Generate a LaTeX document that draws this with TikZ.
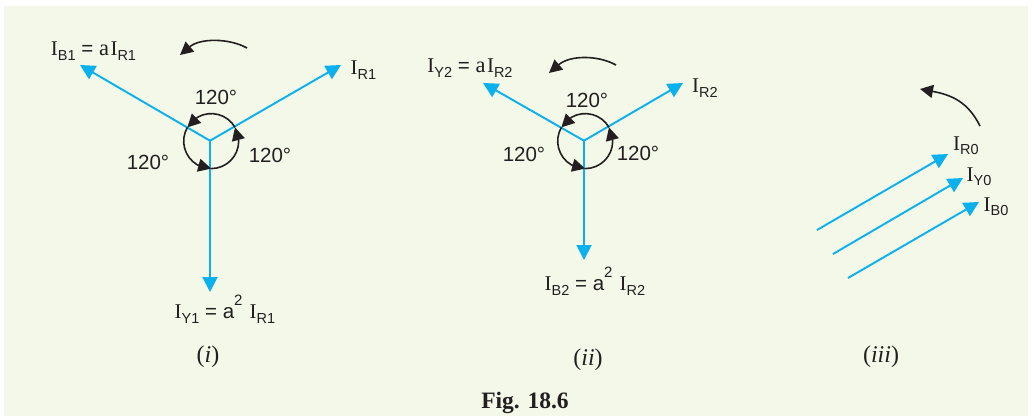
\documentclass[tikz,border=0pt]{standalone}
\usepackage{fontspec}
\setmainfont{Liberation Sans}
\newfontfamily\serifI{Liberation Serif}
\usetikzlibrary{arrows.meta}
\definecolor{panelbg}{HTML}{F3F8E8}
\definecolor{phasor}{HTML}{0BB0EE}
\definecolor{inkblack}{HTML}{231F20}
\newcommand{\cur}[1]{{\serifI\fontsize{21}{21}\selectfont I}\raisebox{-0.4ex}{\fontsize{14.5}{14.5}\selectfont #1}}
\newcommand{\sqr}{a\raisebox{1.25ex}{\fontsize{15}{15}\selectfont 2}\hspace{0.35em}}
\newcommand{\lina}{{\serifI\fontsize{22.5}{22.5}\selectfont a\kern1.5pt}}
\tikzset{
	phasorline/.style={phasor,line width=1.9pt,-{Triangle[length=15pt,width=15pt]}},
	turnline/.style={inkblack,line width=1.6pt,-{Triangle[length=13pt,width=13pt]}},
	lbl/.style={font=\fontsize{20.5}{20.5}\selectfont,text=inkblack,inner sep=0pt},
	caption/.style={font=\fontsize{24}{24}\selectfont\serifI,text=inkblack,inner sep=0pt}
}
\begin{document}
\begin{tikzpicture}[x=1pt,y=-1pt]
	\useasboundingbox (0,0) rectangle (1034,416);
	\fill[panelbg] (4,6) rectangle (1028,416);
	% three phasor stars
	\foreach \n/\hx/\hy/\rx/\ry/\lx/\ly/\dy in {%
		one/210/140.7/341/65/80/65/292,%
		two/584/140.7/683/83/483/83/260%
	}{
		\coordinate (hub\n) at (\hx,\hy);
		\coordinate (right\n) at (\rx,\ry);
		\coordinate (left\n) at (\lx,\ly);
		\coordinate (down\n) at (\hx,\dy);
		\draw[phasorline] (hub\n) -- (right\n);
		\draw[phasorline] (hub\n) -- (left\n);
		\draw[phasorline] (hub\n) -- (down\n);
		\foreach \a in {-90,30,150}{
			\pgfmathsetmacro{\e}{\a+120}
			\coordinate (arcs) at ([shift={(\a:27.5pt)},xshift=1.2pt,yshift=-0.4pt]hub\n);
			\coordinate (arce) at ([shift={(\e:27.5pt)},xshift=1.2pt,yshift=-0.4pt]hub\n);
			\draw[turnline] (arcs) arc[start angle=\a,delta angle=90,radius=27.5pt] -- (arce);
		}
	}
	% parallel set
	\foreach \n/\sx/\sy/\tx/\ty in {%
		r/817/230/948/154,%
		y/833/254/963/178,%
		b/848/278/979/202%
	}{
		\coordinate (start\n) at (\sx,\sy);
		\coordinate (tip\n) at (\tx,\ty);
		\draw[phasorline] (start\n) -- (tip\n);
	}
	% rotation arrows
	\foreach \n/\ax/\ay/\bx/\by/\cx/\cy/\ex/\ey in {%
		a/247/48/229/38/200/38/180/55,%
		b/616/65/598/55/570/55/549/73%
	}{
		\coordinate (rot\n s) at (\ax,\ay);
		\coordinate (rot\n e) at (\ex,\ey);
		\draw[turnline] (rot\n s) .. controls (\bx,\by) and (\cx,\cy) .. (rot\n e);
	}
	\coordinate (rotcs) at (980,126);
	\coordinate (rotce) at (920,89);
	\draw[turnline] (rotcs) .. controls (968,102) and (952,95) .. (rotce);
	% labels
	\foreach \n/\x/\y/\t in {%
		aone/93.5/51/{\cur{B1} = \lina\cur{R1}},%
		bone/363.5/70/{\cur{R1}},%
		cone/225/309/{\cur{Y1} = \sqr\cur{R1}},%
		atwo/470/68/{\cur{Y2} = \lina\cur{R2}},%
		btwo/705/88/{\cur{R2}},%
		ctwo/595/281/{\cur{B2} = \sqr\cur{R2}},%
		rzero/966/146/{\cur{R0}},%
		yzero/979/177/{\cur{Y0}},%
		bzero/996/207/{\cur{B0}},%
		dega/216/97/{120°},degb/270/155/{120°},degc/148/162/{120°},%
		degd/587/100/{120°},dege/638/153/{120°},degf/524/154/{120°}%
	}{
		\node[lbl] (lab\n) at (\x,\y) {\t};
	}
	\node[caption] (capi) at (208,357) {({\itshape i})};
	\node[caption] (capii) at (588,360) {({\itshape ii})};
	\node[caption] (capiii) at (881,357) {({\itshape iii})};
	\node[font=\fontsize{23.5}{23.5}\selectfont\serifI\bfseries,text=inkblack,inner sep=0pt] (figlab) at (525,403) {Fig. 18.6};
\end{tikzpicture}
\end{document}
